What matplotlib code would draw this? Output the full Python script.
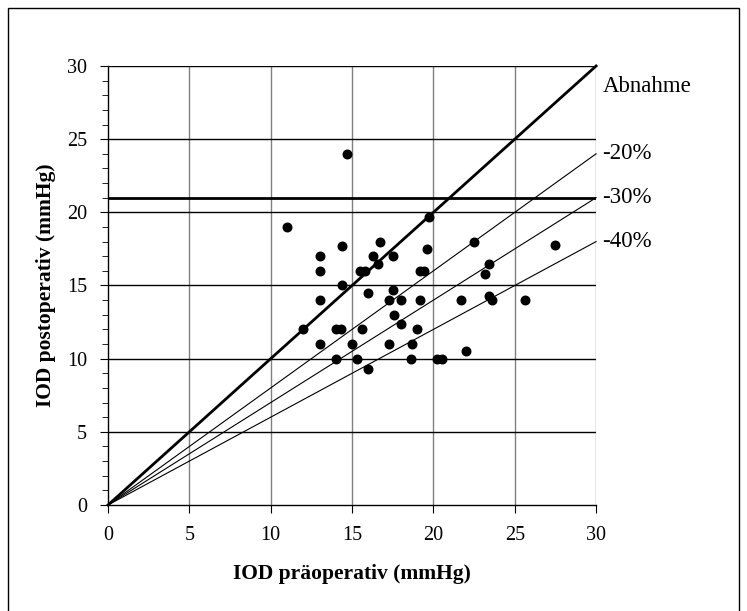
import matplotlib
matplotlib.use("Agg")
import matplotlib.pyplot as plt
from matplotlib.patches import Rectangle
from matplotlib.ticker import MultipleLocator
import numpy as np

plt.rcParams["font.family"] = ["Liberation Serif", "DejaVu Serif"]

# ----- DATA -----
iod_prae = [14.7, 11.0, 19.7, 22.5, 14.4, 16.7, 13.0, 16.3, 17.5, 16.6, 19.6,
            23.4, 23.2, 13.0, 15.5, 15.8, 19.2, 19.4, 14.4, 16.0, 17.5, 13.0,
            17.3, 18.0, 19.2, 21.7, 23.4, 23.6, 25.6, 17.6, 18.0, 12.0, 14.0,
            14.3, 15.6, 19.0, 13.0, 15.0, 17.3, 18.7, 22.0, 14.0, 15.3, 18.6,
            20.2, 20.5, 16.0, 27.5]
iod_post = [24.0, 19.0, 19.7, 18.0, 17.7, 18.0, 17.0, 17.0, 17.0, 16.5, 17.5,
            16.5, 15.8, 16.0, 16.0, 16.0, 16.0, 16.0, 15.0, 14.5, 14.7, 14.0,
            14.0, 14.0, 14.0, 14.0, 14.3, 14.0, 14.0, 13.0, 12.4, 12.0, 12.0,
            12.0, 12.0, 12.0, 11.0, 11.0, 11.0, 11.0, 10.5, 10.0, 10.0, 10.0,
            10.0, 10.0, 9.3, 17.8]

reductions = [0.0, 0.2, 0.3, 0.4]
reduction_labels = ["Abnahme", "-20%", "-30%", "-40%"]
label_y = [28.6, 24.0, 21.0, 18.0]
grenze = 21

fig = plt.figure(figsize=(7.47, 6.11), dpi=100)
ax = fig.add_axes([0.1446, 0.1735, 0.6534, 0.7185])

# outer frame
fig.patches.append(Rectangle((0.011, -0.02), 0.978, 1.007, transform=fig.transFigure,
                             fill=False, edgecolor="black", linewidth=1.0))

# ----- GRID -----
for xv in range(5, 31, 5):
    ax.axvline(xv, color="#808080", linewidth=1.0, zorder=1)
for yv in range(5, 31, 5):
    ax.axhline(yv, color="black", linewidth=1.0, zorder=1)

# ----- REDUCTION LINES -----
xs = np.array([0, 30])
for r in reductions:
    lw = 2.0 if r == 0 else 0.8
    ax.plot(xs, xs * (1 - r), color="black", linewidth=lw, zorder=2, clip_on=False)
ax.axhline(grenze, color="black", linewidth=2.0, zorder=2)

for lab, ly in zip(reduction_labels, label_y):
    ax.text(30.4, ly, lab, fontsize=16.5, va="center", ha="left")

# ----- SCATTER -----
ax.scatter(iod_prae, iod_post, s=38, color="black", zorder=3, clip_on=False)

ax.set_xlim(0, 30)
ax.set_ylim(0, 30)
ax.set_xticks(range(0, 31, 5))
ax.set_yticks(range(0, 31, 5))
ax.yaxis.set_minor_locator(MultipleLocator(1))
ax.tick_params(axis="both", which="major", direction="out", length=6, labelsize=14.5, pad=9)
ax.tick_params(axis="y", which="minor", direction="out", length=4)
ax.tick_params(axis="x", which="minor", length=0)

for side in ["top", "right"]:
    ax.spines[side].set_visible(False)
ax.spines["left"].set_linewidth(1.0)
ax.spines["bottom"].set_linewidth(1.0)

ax.set_xlabel("IOD präoperativ (mmHg)", fontsize=15.5, fontweight="bold", labelpad=14)
ax.set_ylabel("IOD postoperativ (mmHg)", fontsize=15.5, fontweight="bold", labelpad=8)

fig.savefig("out.png", dpi=100)
